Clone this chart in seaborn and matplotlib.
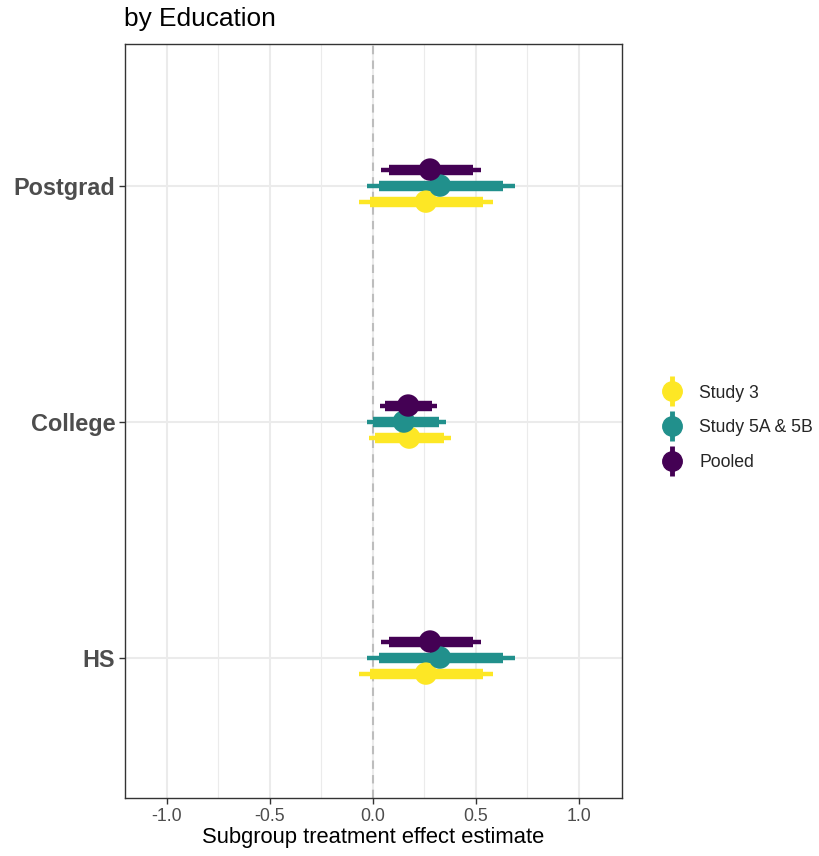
import numpy as np
import pandas as pd
import matplotlib
matplotlib.use("Agg")
import matplotlib.pyplot as plt
from matplotlib.lines import Line2D
from matplotlib.legend_handler import HandlerTuple
import seaborn as sns

# Subgroup estimates with 90% (inner) and 95% (outer) intervals
groups = ["HS", "College", "Postgrad"]
studies = ["Study 3", "Study 5A & 5B", "Pooled"]
colors = ["#FDE725", "#21908C", "#440154"]

est = {
    "Study 3":       [0.257, 0.176, 0.257],
    "Study 5A & 5B": [0.325, 0.150, 0.325],
    "Pooled":        [0.277, 0.171, 0.277],
}
lo90 = {
    "Study 3":       [-0.015, 0.010, -0.015],
    "Study 5A & 5B": [0.031, 0.002, 0.031],
    "Pooled":        [0.080, 0.058, 0.080],
}
hi90 = {
    "Study 3":       [0.535, 0.346, 0.535],
    "Study 5A & 5B": [0.633, 0.322, 0.633],
    "Pooled":        [0.486, 0.285, 0.486],
}
lo95 = {
    "Study 3":       [-0.066, -0.018, -0.066],
    "Study 5A & 5B": [-0.028, -0.031, -0.028],
    "Pooled":        [0.040, 0.034, 0.040],
}
hi95 = {
    "Study 3":       [0.584, 0.377, 0.584],
    "Study 5A & 5B": [0.688, 0.354, 0.688],
    "Pooled":        [0.524, 0.312, 0.524],
}
x_ticks = [-1.0, -0.5, 0.0, 0.5, 1.0]
x_tick_labels = ["-1.0", "-0.5", "0.0", "0.5", "1.0"]

sns.set_style("white")
plt.rcParams["font.family"] = ["Liberation Sans", "DejaVu Sans"]

rows = []
offsets = {"Study 3": -0.068, "Study 5A & 5B": 0.0, "Pooled": 0.068}
for s in studies:
    for i, g in enumerate(groups):
        rows.append(dict(study=s, group=g, y=i + offsets[s], est=est[s][i],
                         lo90=lo90[s][i], hi90=hi90[s][i],
                         lo95=lo95[s][i], hi95=hi95[s][i]))
df = pd.DataFrame(rows)

fig = plt.figure(figsize=(8.2, 8.56), dpi=100)
ax = fig.add_axes([0.1524, 0.0678, 0.6061, 0.8808])

# grid
for v in [-0.75, -0.25, 0.25, 0.75]:
    ax.axvline(v, color="#EBEBEB", lw=0.8, zorder=0)
for v in x_ticks:
    ax.axvline(v, color="#EBEBEB", lw=1.5, zorder=0)
for i in range(len(groups)):
    ax.axhline(i, color="#EBEBEB", lw=1.5, zorder=0)
ax.axvline(0, color="#BDBDBD", lw=1.5, ls=(0, (4, 3)), zorder=1)

pal = dict(zip(studies, colors))
for s in studies:
    d = df[df.study == s]
    ax.hlines(d.y, d.lo95, d.hi95, color=pal[s], lw=3.2, zorder=2)
    ax.hlines(d.y, d.lo90, d.hi90, color=pal[s], lw=7.5, zorder=3)

sns.scatterplot(data=df, x="est", y="y", hue="study", palette=pal,
                hue_order=studies, s=260, edgecolor="none", linewidth=0,
                zorder=4, ax=ax, legend=False)

ax.set_xlim(-1.204, 1.209)
ax.set_ylim(-0.595, 2.6)
ax.set_xticks(x_ticks)
ax.set_xticklabels(x_tick_labels, fontsize=12.8, color="#4D4D4D")
ax.set_yticks(range(len(groups)))
ax.set_yticklabels(groups, fontsize=16.9, fontweight="bold", color="#4D4D4D")
ax.tick_params(axis="both", length=4.5, width=1, color="#333333", direction="out",
               bottom=True, left=True, pad=2.5)
ax.set_xlabel("Subgroup treatment effect estimate", fontsize=15.8, color="black",
              labelpad=2)
ax.set_ylabel("")
for sp in ax.spines.values():
    sp.set_color("#333333")
    sp.set_linewidth(1.0)

fig.text(124 / 820, 1 - 19 / 856, "by Education", fontsize=18.9, color="black",
         ha="left", va="center")

handles = []
for s in studies:
    bar = Line2D([], [], color=pal[s], marker="|", markersize=22, markeredgewidth=3.5,
                 linestyle="none")
    dot = Line2D([], [], color=pal[s], marker="o", markersize=14, linestyle="none")
    handles.append((bar, dot))
leg = fig.legend(handles, studies, handler_map={tuple: HandlerTuple(ndivide=1)},
                 loc="center left", bbox_to_anchor=(0.787, 0.5), frameon=False,
                 fontsize=12.7, labelspacing=1.02, handlelength=1.2, handletextpad=0.95)

fig.savefig("out.png", dpi=100)
